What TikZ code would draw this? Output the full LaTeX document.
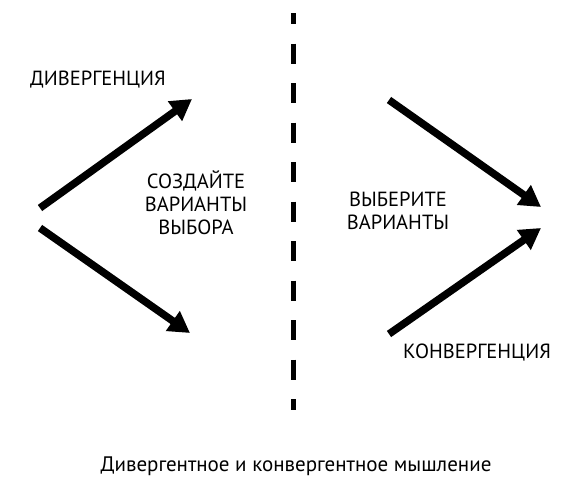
\documentclass[tikz,border=0pt]{standalone}
\usepackage{fontspec}
\setmainfont{PT Sans}
\usepackage{tikz}
\usetikzlibrary{arrows.meta,positioning,calc}

\begin{document}
\begin{tikzpicture}[x=1pt,y=-1pt,
bigarrow/.style={line width=7.5pt,-{Triangle[length=21pt,width=23pt]}},
lbl/.style={inner sep=0pt,font=\fontsize{20.5}{23}\selectfont,align=center},
sep/.style={line width=5pt,dash pattern=on 20pt off 19.5pt,dash phase=9pt}]
\useasboundingbox (0,0) rectangle (568,479);
% left side
\coordinate (ls1) at (40,208);
\coordinate (lt1) at (192,99);
\coordinate (ls2) at (40,228);
\coordinate (lt2) at (190,333);
\draw[bigarrow] (ls1) -- (lt1);
\draw[bigarrow] (ls2) -- (lt2);
\node[lbl] (div) at (98,80) {ДИВЕРГЕНЦИЯ};
\node[lbl] (create) at (196,203) {СОЗДАЙТЕ\\ВАРИАНТЫ\\ВЫБОРА};
% divider
\coordinate (dtop) at (293,13);
\coordinate (dbot) at (293,410);
\draw[sep] (dtop) -- (dbot);
% right side
\coordinate (rs1) at (389,100);
\coordinate (rt1) at (541,207);
\coordinate (rs2) at (389,334);
\coordinate (rt2) at (541,228);
\draw[bigarrow] (rs1) -- (rt1);
\draw[bigarrow] (rs2) -- (rt2);
\node[lbl] (pick) at (398,211) {ВЫБЕРИТЕ\\ВАРИАНТЫ};
\node[lbl] (conv) at (477,353) {КОНВЕРГЕНЦИЯ};
% caption
\node[lbl,font=\fontsize{21}{24}\selectfont] (cap) at (296,466) {Дивергентное и конвергентное мышление};
\end{tikzpicture}
\end{document}
